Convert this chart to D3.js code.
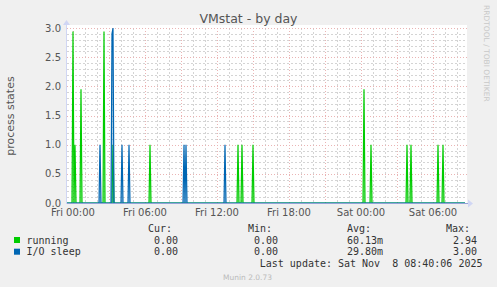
<!DOCTYPE html>
<html><head><meta charset="utf-8">
<script src="https://cdn.jsdelivr.net/npm/d3@7"></script>
<style>
html,body{margin:0;padding:0;background:#F0F0F0;}
svg{display:block;}
text{font-family:"DejaVu Sans",sans-serif;}
.mono{font-family:"DejaVu Sans Mono",monospace;font-size:10px;fill:#333;}
</style></head><body>
<svg id="c" width="497" height="287"></svg>
<script>
// ---- data ----
const title = "VMstat - by day";
const yLabel = "process states";
const seriesNames = ["running", "I/O sleep"];
const seriesColors = ["#00CC00", "#0066B3"];
const yTicks = [0, 0.5, 1.0, 1.5, 2.0, 2.5, 3.0];
const timeStart = "2025-11-06T23:30";
const timeEnd = "2025-11-08T08:50";

const runningTimes = [
 "2025-11-06T23:30","2025-11-06T23:55","2025-11-07T00:00","2025-11-07T00:05","2025-11-07T00:10","2025-11-07T00:15",
 "2025-11-07T00:35","2025-11-07T00:40","2025-11-07T00:45",
 "2025-11-07T02:30","2025-11-07T02:35","2025-11-07T02:40",
 "2025-11-07T03:15","2025-11-07T03:20","2025-11-07T03:25",
 "2025-11-07T06:20","2025-11-07T06:25","2025-11-07T06:30",
 "2025-11-07T13:40","2025-11-07T13:45","2025-11-07T13:50",
 "2025-11-07T14:00","2025-11-07T14:05","2025-11-07T14:10",
 "2025-11-07T14:55","2025-11-07T15:00","2025-11-07T15:05",
 "2025-11-08T00:10","2025-11-08T00:15","2025-11-08T00:20",
 "2025-11-08T00:45","2025-11-08T00:50","2025-11-08T00:55",
 "2025-11-08T03:45","2025-11-08T03:50","2025-11-08T03:55",
 "2025-11-08T04:05","2025-11-08T04:10","2025-11-08T04:15",
 "2025-11-08T06:20","2025-11-08T06:25","2025-11-08T06:30",
 "2025-11-08T06:45","2025-11-08T06:50","2025-11-08T06:55",
 "2025-11-08T08:40"];
const runningValues = [
 0,0,2.94,0,1.00,0,
 0,1.95,0,
 0,2.94,0,
 0,1.00,0,
 0,1.00,0,
 0,1.00,0,
 0,1.00,0,
 0,1.00,0,
 0,1.95,0,
 0,1.00,0,
 0,1.00,0,
 0,1.00,0,
 0,1.00,0,
 0,1.00,0,
 0];

const ioTimes = [
 "2025-11-06T23:30",
 "2025-11-07T02:10","2025-11-07T02:15","2025-11-07T02:20",
 "2025-11-07T03:10","2025-11-07T03:15","2025-11-07T03:20","2025-11-07T03:25",
 "2025-11-07T04:00","2025-11-07T04:05","2025-11-07T04:10",
 "2025-11-07T04:35","2025-11-07T04:40","2025-11-07T04:45",
 "2025-11-07T09:10","2025-11-07T09:15","2025-11-07T09:20","2025-11-07T09:25","2025-11-07T09:30",
 "2025-11-07T12:35","2025-11-07T12:40","2025-11-07T12:45",
 "2025-11-08T08:40"];
const ioValues = [
 0,
 0,1.00,0,
 0,2.90,3.00,0,
 0,1.00,0,
 0,1.00,0,
 0,1.00,0,1.00,0,
 0,1.00,0,
 0];

const legendHeaders = ["Cur:", "Min:", "Avg:", "Max:"];
const legendRows = [
 ["0.00", "0.00", "60.13m", "2.94"],
 ["0.00", "0.00", "29.80m", "3.00"]];
const lastUpdate = "Last update: Sat Nov  8 08:40:06 2025";
const footer = "Munin 2.0.73";
const sideText = "RRDTOOL / TOBI OETIKER";

// ---- drawing ----
const parse = d3.timeParse("%Y-%m-%dT%H:%M");
const svg = d3.select("#c");
const L = 67, R = 467, T = 28, B = 203;
const x = d3.scaleTime().domain([parse(timeStart), parse(timeEnd)]).range([L, R]);
const y = d3.scaleLinear().domain([0, 3]).range([B, T]);

svg.append("rect").attr("x", L).attr("y", T - 3).attr("width", R - L).attr("height", B - T + 3).attr("fill", "#fff");

// grid
const g = svg.append("g").attr("shape-rendering", "crispEdges");
const minorY = d3.range(0, 31).map(i => i / 10).filter(v => Math.round(v * 10) % 5 !== 0);
g.selectAll(".hmin").data(minorY).enter().append("line")
 .attr("x1", L).attr("x2", R).attr("y1", d => Math.round(y(d)) + 0.5).attr("y2", d => Math.round(y(d)) + 0.5)
 .attr("stroke", "#d4d4d4").attr("stroke-dasharray", "2,2");
const hours = x.ticks(d3.timeHour.every(1));
g.selectAll(".vmin").data(hours.filter(d => d.getHours() % 3 !== 0)).enter().append("line")
 .attr("y1", T).attr("y2", B).attr("x1", d => Math.round(x(d)) + 0.5).attr("x2", d => Math.round(x(d)) + 0.5)
 .attr("stroke", "#d4d4d4").attr("stroke-dasharray", "2,2");
g.selectAll(".hmaj").data(yTicks.filter(v => v > 0)).enter().append("line")
 .attr("x1", L).attr("x2", R).attr("y1", d => Math.round(y(d)) + 0.5).attr("y2", d => Math.round(y(d)) + 0.5)
 .attr("stroke", "#eab4b4").attr("stroke-dasharray", "1,2");
const majorX = x.ticks(d3.timeHour.every(3));
g.selectAll(".vmaj").data(majorX).enter().append("line")
 .attr("y1", T).attr("y2", B + 2).attr("x1", d => Math.round(x(d)) + 0.5).attr("x2", d => Math.round(x(d)) + 0.5)
 .attr("stroke", "#eab4b4").attr("stroke-dasharray", "1,2");

// left axis
g.append("line").attr("x1", L - 0.5).attr("x2", L - 0.5).attr("y1", T - 4).attr("y2", B + 1).attr("stroke", "#d0d6f4");
svg.append("path").attr("d", `M${L - 4},${T - 3}L${L + 3},${T - 3}L${L - 0.5},${T - 8}Z`).attr("fill", "#d0d6f4");

// series
function drawSeries(times, vals, color) {
  const pts = times.map((t, i) => [parse(t), vals[i]]);
  const area = d3.area().x(d => x(d[0])).y0(y(0)).y1(d => y(d[1]));
  const line = d3.line().x(d => x(d[0])).y(d => y(d[1]));
  svg.append("path").attr("d", area(pts)).attr("fill", color).attr("fill-opacity", 0.35);
  svg.append("path").attr("d", line(pts)).attr("fill", "none").attr("stroke", color).attr("stroke-width", 1.2);
}
drawSeries(runningTimes, runningValues, seriesColors[0]);
drawSeries(ioTimes, ioValues, seriesColors[1]);

// bottom axis on top
svg.append("line").attr("shape-rendering", "crispEdges").attr("x1", L).attr("x2", R + 1).attr("y1", B + 0.5).attr("y2", B + 0.5).attr("stroke", "#93a2d8");
svg.append("path").attr("d", `M${R + 1},${B - 3.5}L${R + 1},${B + 4.5}L${R + 6},${B + 0.5}Z`).attr("fill", "#d0d6f4");

// tick labels
svg.selectAll(".yl").data(yTicks).enter().append("text")
 .attr("x", 61).attr("y", d => y(d) + 3.5).attr("text-anchor", "end")
 .attr("font-size", "10px").attr("fill", "#555").text(d3.format(".1f"));
const fmt = d3.timeFormat("%a %H:%M");
svg.selectAll(".xl").data(x.ticks(d3.timeHour.every(6))).enter().append("text")
 .attr("x", d => x(d)).attr("y", 216).attr("text-anchor", "middle")
 .attr("font-size", "10px").attr("fill", "#555").text(fmt);

// title & labels
svg.append("text").attr("x", 248.5).attr("y", 23).attr("text-anchor", "middle")
 .attr("font-size", "12.5px").attr("fill", "#555").text(title);
svg.append("text").attr("transform", "translate(14,116) rotate(-90)").attr("text-anchor", "middle")
 .attr("font-size", "11px").attr("fill", "#555").text(yLabel);
svg.append("text").attr("transform", "translate(484,5) rotate(90)").attr("text-anchor", "start")
 .attr("font-size", "7.5px").attr("fill", "#c8c8c8").text(sideText);

// legend
const colEnds = [178, 278, 383, 477];
const hdrEnds = [172, 272, 371, 470];
legendHeaders.forEach((h, i) => svg.append("text").attr("class", "mono").attr("x", hdrEnds[i]).attr("y", 232)
 .attr("text-anchor", "end").text(h));
seriesNames.forEach((n, r) => {
  const yy = 243.5 + r * 11.7;
  svg.append("rect").attr("x", 14).attr("y", yy - 6.5).attr("width", 6).attr("height", 6).attr("fill", seriesColors[r]);
  svg.append("text").attr("class", "mono").attr("x", 26.5).attr("y", yy).text(n);
  legendRows[r].forEach((v, i) => svg.append("text").attr("class", "mono").attr("x", colEnds[i]).attr("y", yy)
   .attr("text-anchor", "end").text(v));
});
svg.append("text").attr("class", "mono").attr("x", 482.5).attr("y", 267).attr("text-anchor", "end")
 .attr("xml:space", "preserve").style("white-space", "pre").text(lastUpdate);
svg.append("text").attr("x", 247.5).attr("y", 280).attr("text-anchor", "middle")
 .attr("font-size", "7.5px").attr("fill", "#bbb").text(footer);
</script></body></html>
